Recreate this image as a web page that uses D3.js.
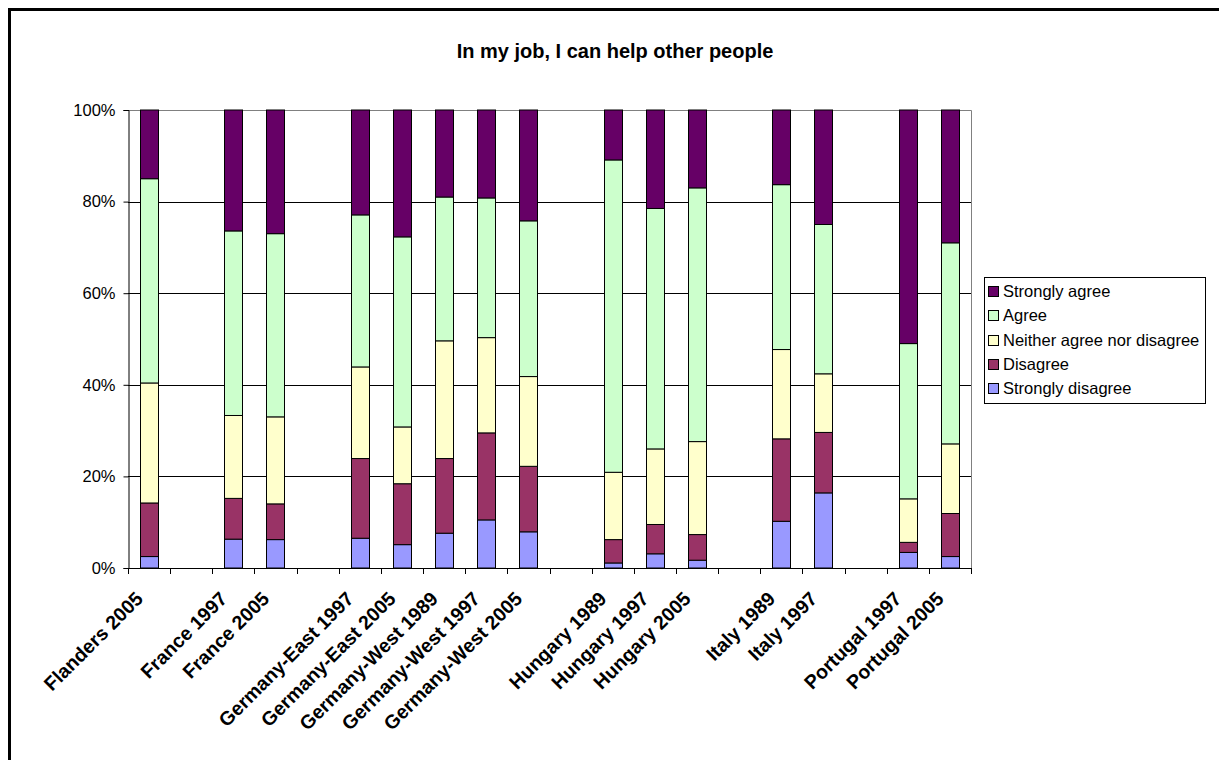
<!DOCTYPE html>
<html>
<head>
<meta charset="utf-8">
<script src="https://cdn.jsdelivr.net/npm/d3@7"></script>
<style>
  html, body { margin: 0; padding: 0; background: #fff; }
  svg { display: block; font-family: Arial, "Liberation Sans", sans-serif; }
</style>
</head>
<body>
<svg id="chart" width="1219" height="760"></svg>
<script>
// ---- data ----
const categories = [
  "Flanders 2005", "", "France 1997", "France 2005", "",
  "Germany-East 1997", "Germany-East 2005", "Germany-West 1989", "Germany-West 1997", "Germany-West 2005", "",
  "Hungary 1989", "Hungary 1997", "Hungary 2005", "",
  "Italy 1989", "Italy 1997", "",
  "Portugal 1997", "Portugal 2005"
];
const seriesNames = ["Strongly disagree", "Disagree", "Neither agree nor disagree", "Agree", "Strongly agree"];
// percentages per category (null = empty slot)
const stronglyDisagree = [2.5, null, 6.3, 6.2, null, 6.5, 5.1, 7.6, 10.5, 7.9, null, 1.1, 3.1, 1.7, null, 10.2, 16.4, null, 3.4, 2.5];
const disagree         = [11.7, null, 8.9, 7.8, null, 17.4, 13.3, 16.3, 19.0, 14.3, null, 5.1, 6.4, 5.6, null, 18.0, 13.2, null, 2.2, 9.4];
const neither          = [26.2, null, 18.1, 19.0, null, 20.0, 12.4, 25.7, 20.8, 19.6, null, 14.7, 16.5, 20.3, null, 19.5, 12.8, null, 9.5, 15.2];
const agree            = [44.6, null, 40.3, 40.0, null, 33.2, 41.5, 31.4, 30.5, 34.0, null, 68.2, 52.5, 55.4, null, 36.0, 32.6, null, 33.9, 43.9];
const stronglyAgree    = [15.0, null, 26.4, 27.0, null, 22.9, 27.7, 19.0, 19.2, 24.2, null, 10.9, 21.5, 17.0, null, 16.3, 25.0, null, 51.0, 29.0];
const yTicks = [0, 20, 40, 60, 80, 100];
const colors = ["#9999FF", "#993366", "#FFFFCC", "#CCFFCC", "#660066"];

// ---- layout ----
const svg = d3.select("#chart");
const plot = { left: 128, right: 971, top: 110, bottom: 568 };

// outer frame
svg.append("rect").attr("x", 9.5).attr("y", 9.5).attr("width", 1400).attr("height", 900)
  .attr("fill", "#fff").attr("stroke", "#000").attr("stroke-width", 3);

// title
svg.append("text").attr("x", 615).attr("y", 58).attr("text-anchor", "middle")
  .attr("font-size", 20).attr("font-weight", "bold").text("In my job, I can help other people");

const x = d3.scaleBand().domain(d3.range(categories.length)).range([plot.left, plot.right]).paddingInner(0.565).paddingOuter(0.2825);
const xSlot = d3.scaleBand().domain(d3.range(categories.length)).range([plot.left, plot.right]);
const y = d3.scaleLinear().domain([0, 100]).range([plot.bottom, plot.top]);

// gridlines
svg.append("g").selectAll("line").data(yTicks.filter(t => t > 0 && t < 100)).join("line")
  .attr("x1", plot.left).attr("x2", plot.right)
  .attr("y1", d => Math.round(y(d)) + 0.5).attr("y2", d => Math.round(y(d)) + 0.5)
  .attr("stroke", "#000").attr("stroke-width", 1);

// plot border (top, right)
svg.append("path")
  .attr("d", `M${plot.left},${plot.top + 0.5}H${plot.right + 0.5}V${plot.bottom}`)
  .attr("fill", "none").attr("stroke", "#808080").attr("stroke-width", 1);

// stacked data
const rows = categories.map((c, i) => ({
  i, "Strongly disagree": stronglyDisagree[i], "Disagree": disagree[i],
  "Neither agree nor disagree": neither[i], "Agree": agree[i], "Strongly agree": stronglyAgree[i]
}));
const valid = rows.filter(r => r["Agree"] !== null).map(r => {
  const tot = seriesNames.reduce((s, k) => s + r[k], 0);
  const o = { i: r.i };
  seriesNames.forEach(k => o[k] = r[k] / tot * 100);
  return o;
});
const stack = d3.stack().keys(seriesNames)(valid);

svg.append("g").selectAll("g").data(stack).join("g")
  .attr("fill", (d, k) => colors[k])
  .selectAll("rect").data(d => d).join("rect")
  .attr("x", d => Math.round(x(d.data.i)) + 0.5)
  .attr("width", Math.round(x.bandwidth()))
  .attr("y", d => y(d[1]))
  .attr("height", d => y(d[0]) - y(d[1]))
  .attr("stroke", "#000").attr("stroke-width", 1);

// y axis
const yAxis = svg.append("g").attr("transform", `translate(${plot.left + 0.5},0)`)
  .call(d3.axisLeft(y).tickValues(yTicks).tickFormat(d => d + "%").tickSizeOuter(0).tickSize(5).tickPadding(8));
yAxis.select(".domain").attr("stroke", "#000");
yAxis.selectAll(".tick line").attr("stroke", "#000");
yAxis.selectAll("text").attr("font-size", 16.5).attr("font-family", "Arial, 'Liberation Sans', sans-serif").attr("fill", "#000");

// x axis line + ticks at slot boundaries
const xg = svg.append("g");
xg.append("line").attr("x1", plot.left).attr("x2", plot.right + 1)
  .attr("y1", plot.bottom + 0.5).attr("y2", plot.bottom + 0.5).attr("stroke", "#000");
xg.selectAll("line.tk").data(d3.range(categories.length + 1)).join("line").attr("class", "tk")
  .attr("x1", d => Math.round(plot.left + d * xSlot.step()) + 0.5)
  .attr("x2", d => Math.round(plot.left + d * xSlot.step()) + 0.5)
  .attr("y1", plot.bottom).attr("y2", plot.bottom + 6).attr("stroke", "#000");

xg.selectAll("text").data(categories.map((c, i) => ({ c, i })).filter(d => d.c)).join("text")
  .attr("transform", d => `translate(${xSlot(d.i) + xSlot.bandwidth() / 2 - 5},${600}) rotate(-45)`)
  .attr("text-anchor", "end").attr("font-size", 19.5).attr("font-weight", "bold")
  .text(d => d.c);

// legend
const lg = svg.append("g").attr("transform", "translate(984,277)");
lg.append("rect").attr("x", 0.5).attr("y", 0.5).attr("width", 221).attr("height", 126)
  .attr("fill", "#fff").attr("stroke", "#000");
const legendOrder = seriesNames.slice().reverse();
const legendColors = colors.slice().reverse();
legendOrder.forEach((name, k) => {
  const cy = 14 + k * 24.3;
  lg.append("rect").attr("x", 4.5).attr("y", Math.round(cy - 5) + 0.5).attr("width", 10).attr("height", 10)
    .attr("fill", legendColors[k]).attr("stroke", "#000");
  lg.append("text").attr("x", 19).attr("y", cy + 6).attr("font-size", 16.5).text(name);
});
</script>
</body>
</html>
